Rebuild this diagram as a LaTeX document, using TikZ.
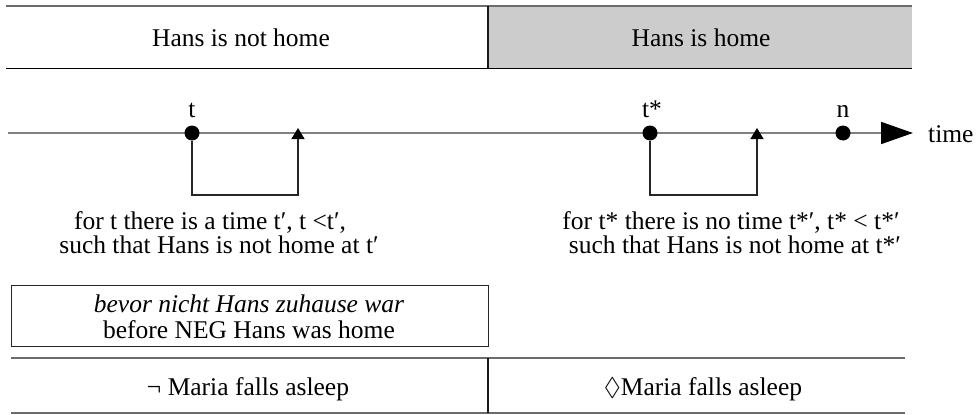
\documentclass[tikz,border=0pt]{standalone}
\usepackage{fontspec}
\setmainfont{Liberation Serif}
\usepackage{amssymb}
\usetikzlibrary{arrows.meta}
\definecolor{cellgray}{HTML}{CCCCCC}
\definecolor{rulegray}{HTML}{6B6B6B}
\definecolor{axisgray}{HTML}{808080}
\begin{document}
\begin{tikzpicture}[x=1pt,y=-1pt,
  txt/.style={inner sep=0pt, anchor=base, font=\fontsize{25.5}{26}\selectfont},
  dot/.style={circle, fill=black, inner sep=0pt, minimum size=15pt},
  bracket/.style={line width=1.3pt, draw=black!85, -{Triangle[length=11pt,width=13pt,color=black]}},
  grayrule/.style={line width=2pt, draw=rulegray},
  blackrule/.style={line width=1.6pt, draw=black},
  divider/.style={line width=1.3pt, draw=black!90},
  axisline/.style={line width=1.8pt, draw=axisgray, -{Triangle[length=32pt,width=22pt,color=black]}}
]
\useasboundingbox (0,0) rectangle (978,415);

% top row
\fill[fill=cellgray] (488,5.7) rectangle (912,68.3);
\draw[grayrule] (6,5.7) -- (912,5.7);
\draw[blackrule] (6,68.3) -- (912,68.3);
\draw[divider] (488,5.7) -- (488,68.3);
\node[txt] (hnh) at (241,46.5) {Hans is not home};
\node[txt] (hh) at (701,46.5) {Hans is home};

% time axis
\coordinate (ts) at (8,133);
\coordinate (te) at (913,133);
\draw[axisline] (ts) -- (te);
\node[txt, anchor=base west] (time) at (928,142) {time};

% points
\node[dot] (t) at (192,133) {};
\node[dot] (tstar) at (650,133) {};
\node[dot] (n) at (843,133) {};
\node[txt] (tl) at (192,117) {t};
\node[txt] (tsl) at (652,117) {t*};
\node[txt] (nl) at (843,117) {n};

% brackets
\coordinate (a1) at (192,195);
\coordinate (a2) at (298,195);
\coordinate (a3) at (298,128);
\draw[bracket] (t.south) -- (a1) -- (a2) -- (a3);
\coordinate (b1) at (650,195);
\coordinate (b2) at (757,195);
\coordinate (b3) at (757,128);
\draw[bracket] (tstar.south) -- (b1) -- (b2) -- (b3);

% explanations
\node[txt] (l1) at (210,229) {for t there is a time t′, t <t′,};
\node[txt] (l2) at (219,253) {such that Hans is not home at t′};
\node[txt] (r1) at (731,229) {for t* there is no time t*′, t* < t*′};
\node[txt] (r2) at (735,253) {such that Hans is not home at t*′};

% italic box
\node[draw=black!85, line width=1.2pt, minimum width=477pt, minimum height=61pt,
      inner sep=0pt, anchor=north west] (ib) at (11,285) {};
\node[txt] (ibg) at (249,312) {\itshape bevor nicht Hans zuhause war};
\node[txt] (ibe) at (249,338) {before NEG Hans was home};

% bottom row
\draw[grayrule] (11,358) -- (905,358);
\draw[grayrule] (11,413) -- (905,413);
\draw[divider] (488,358) -- (488,413);
\node[txt] (m1) at (248,395) {¬ Maria falls asleep};
\node[txt] (m2) at (703,395) {$\Diamond$Maria falls asleep};
\end{tikzpicture}
\end{document}
